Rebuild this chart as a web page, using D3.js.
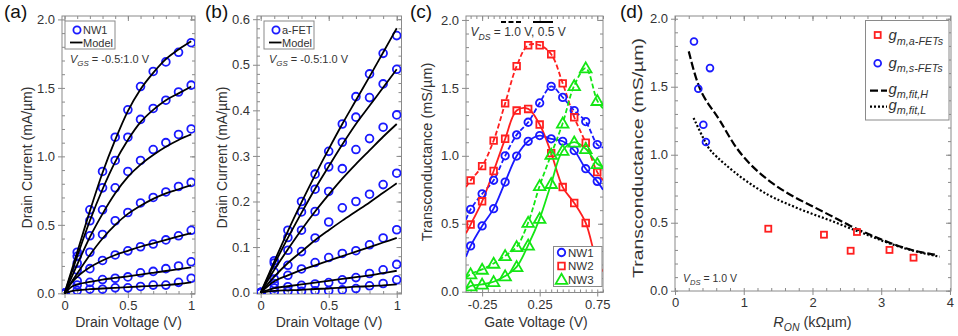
<!DOCTYPE html>
<html><head><meta charset="utf-8">
<script src="https://cdn.jsdelivr.net/npm/d3@7"></script>
<style>body{margin:0;background:#fff}svg{display:block}</style>
</head><body>
<script>
// ---------------- data ----------------
// (a) NW1 output characteristics, VGS = -0.5 : 1.0 V (top curve first)
const aVd = [0, 0.1, 0.2, 0.3, 0.4, 0.5, 0.6, 0.7, 0.8, 0.9, 1.0];
const aId = [
  [0, 0.30, 0.61, 0.89, 1.14, 1.34, 1.51, 1.62, 1.69, 1.76, 1.83],
  [0, 0.27, 0.53, 0.77, 0.97, 1.14, 1.27, 1.35, 1.41, 1.47, 1.52],
  [0, 0.22, 0.42, 0.61, 0.77, 0.89, 0.97, 1.05, 1.10, 1.16, 1.20],
  [0, 0.17, 0.30, 0.43, 0.53, 0.59, 0.66, 0.70, 0.74, 0.78, 0.81],
  [0, 0.09, 0.18, 0.24, 0.28, 0.31, 0.34, 0.36, 0.39, 0.42, 0.46],
  [0, 0.06, 0.08, 0.10, 0.11, 0.12, 0.15, 0.16, 0.18, 0.20, 0.23],
  [0, 0.02, 0.03, 0.03, 0.04, 0.04, 0.05, 0.06, 0.06, 0.08, 0.11]
];
const aModelVd = [0, 0.05, 0.1, 0.2, 0.3, 0.4, 0.5, 0.6, 0.7, 0.8, 0.9, 1.0];
const aModel = [
  [0, 0.15, 0.30, 0.60, 0.88, 1.12, 1.33, 1.49, 1.61, 1.71, 1.78, 1.84],
  [0, 0.135, 0.27, 0.53, 0.76, 0.96, 1.12, 1.25, 1.34, 1.41, 1.46, 1.51],
  [0, 0.105, 0.21, 0.41, 0.58, 0.73, 0.85, 0.94, 1.01, 1.07, 1.12, 1.16],
  [0, 0.075, 0.145, 0.28, 0.40, 0.50, 0.58, 0.64, 0.69, 0.73, 0.76, 0.79],
  [0, 0.07, 0.12, 0.19, 0.24, 0.28, 0.31, 0.34, 0.365, 0.39, 0.415, 0.44],
  [0, 0.045, 0.065, 0.083, 0.10, 0.112, 0.124, 0.137, 0.15, 0.163, 0.177, 0.19],
  [0, 0.015, 0.022, 0.03, 0.035, 0.04, 0.045, 0.05, 0.055, 0.06, 0.068, 0.08]
];
// (b) a-FET output characteristics
const bVd = [0, 0.1, 0.2, 0.3, 0.4, 0.5, 0.6, 0.7, 0.8, 0.9, 1.0];
const bId = [
  [0, 0.070, 0.137, 0.200, 0.260, 0.310, 0.370, 0.430, 0.480, 0.525, 0.564],
  [0, 0.065, 0.121, 0.177, 0.227, 0.276, 0.330, 0.385, 0.428, 0.458, 0.490],
  [0, 0.045, 0.093, 0.137, 0.178, 0.222, 0.272, 0.314, 0.338, 0.363, 0.390],
  [0, 0.030, 0.060, 0.090, 0.120, 0.155, 0.186, 0.200, 0.216, 0.237, 0.262],
  [0, 0.020, 0.038, 0.052, 0.066, 0.077, 0.086, 0.092, 0.105, 0.120, 0.138],
  [0, 0.010, 0.013, 0.016, 0.019, 0.022, 0.028, 0.033, 0.042, 0.050, 0.062],
  [0, 0.002, 0.003, 0.003, 0.004, 0.004, 0.006, 0.009, 0.015, 0.020, 0.028]
];
const bModelVd = [0, 0.1, 0.2, 0.3, 0.4, 0.5, 0.6, 0.7, 0.8, 0.9, 1.0];
const bModel = [
  [0, 0.068, 0.135, 0.198, 0.258, 0.315, 0.37, 0.422, 0.474, 0.527, 0.58],
  [0, 0.062, 0.12, 0.175, 0.228, 0.277, 0.325, 0.37, 0.41, 0.45, 0.49],
  [0, 0.05, 0.095, 0.138, 0.178, 0.215, 0.25, 0.282, 0.312, 0.342, 0.37],
  [0, 0.035, 0.065, 0.09, 0.115, 0.137, 0.158, 0.178, 0.198, 0.219, 0.24],
  [0, 0.025, 0.038, 0.05, 0.06, 0.07, 0.08, 0.09, 0.10, 0.11, 0.12],
  [0, 0.01, 0.014, 0.018, 0.022, 0.026, 0.03, 0.034, 0.038, 0.043, 0.048],
  [0, 0.004, 0.005, 0.006, 0.008, 0.009, 0.011, 0.013, 0.014, 0.016, 0.018]
];
// (c) transconductance vs gate voltage; order: NW1 1.0V, NW1 0.5V, NW2 1.0V, NW2 0.5V, NW3 1.0V, NW3 0.5V
const cVg = [-0.35, -0.25, -0.15, -0.05, 0.05, 0.15, 0.25, 0.35, 0.45, 0.55, 0.65, 0.75];
const cNW1_10 = [0.606, 0.72, 0.82, 1.00, 1.154, 1.247, 1.389, 1.511, 1.43, 1.333, 1.252, 1.083];
const cNW1_05 = [0.337, 0.484, 0.611, 0.807, 0.998, 1.107, 1.149, 1.125, 1.107, 1.039, 0.905, 0.812];
const cNW2_10 = [0.819, 0.924, 1.112, 1.386, 1.66, 1.814, 1.814, 1.748, 1.533, 1.284, 1.096, 0.88];
const cNW2_05 = [0.494, 0.665, 0.888, 1.125, 1.333, 1.345, 1.23, 1.02, 0.77, 0.653, 0.506, 0.215];
const cNW3_10 = [0.13, 0.164, 0.208, 0.264, 0.33, 0.509, 0.78, 1.01, 1.24, 1.516, 1.646, 1.406];
const cNW3_05 = [0.042, 0.054, 0.073, 0.115, 0.183, 0.342, 0.538, 0.795, 1.039, 1.10, 1.052, 0.942];
const cEdgeLeft = [0.53, 0.257, 0.77, 0.43, 0.103, 0.018];
const cEdgeRight = [1.06, 0.75, 0.82, 0.15, 1.35, 0.92];
const cLegend = ["NW1", "NW2", "NW3"];
// (d) transconductance vs RON
const dRonA = [1.357, 2.167, 2.555, 2.647, 3.12, 3.47];
const dGmA = [0.456, 0.412, 0.294, 0.432, 0.30, 0.243];
const dRonS = [0.276, 0.509, 0.339, 0.412, 0.45];
const dGmS = [1.833, 1.637, 1.485, 1.22, 1.094];
const dFitHR = [0.20, 0.34, 0.5, 0.655, 0.85, 1.09, 1.38, 1.67, 1.96, 2.25, 2.545, 2.84, 3.08, 3.47, 3.78];
const dFitHG = [1.76, 1.485, 1.36, 1.257, 1.072, 0.925, 0.80, 0.704, 0.631, 0.557, 0.476, 0.41, 0.36, 0.29, 0.265];
const dFitLR = [0.27, 0.45, 0.51, 0.70, 1.0, 1.38, 1.67, 1.96, 2.25, 2.545, 2.84, 3.08, 3.47, 3.85];
const dFitLG = [1.27, 1.08, 1.03, 0.94, 0.815, 0.692, 0.631, 0.57, 0.52, 0.459, 0.403, 0.353, 0.29, 0.25];

// ---------------- drawing ----------------
const FONT = "'Liberation Sans', Arial, Helvetica, sans-serif";
const TXT = "#333", FRAME = "#8a8a8a";
const BLUE = "#1a1aff", RED = "#ff1f1f", GREEN = "#14e614";
const svg = d3.select("body").append("svg").attr("width", 958).attr("height", 336)
  .attr("font-family", FONT);

function rng(a, b, s) { const n = Math.round((b - a) / s); return d3.range(n + 1).map(i => +(a + i * s).toFixed(6)); }

function makePanel(p, id) {
  const x = d3.scaleLinear().domain(p.xd).range([p.l, p.r]);
  const y = d3.scaleLinear().domain(p.yd).range([p.b, p.t]);
  const g = svg.append("g");
  const clean = sel => {
    sel.select(".domain").remove();
    sel.attr("font-family", FONT).attr("font-size", 13);
    sel.selectAll("line").attr("stroke", FRAME);
    sel.selectAll("text").attr("fill", TXT);
  };
  const ax = (fn, tr, vals, size) => g.append("g").attr("transform", tr)
    .call(fn.tickValues(vals).tickSize(size).tickFormat("")).call(clean);
  ax(d3.axisRight(y), `translate(${p.l},0)`, p.yMinor, 3);
  ax(d3.axisLeft(y), `translate(${p.r},0)`, p.yMinor, 3);
  ax(d3.axisBottom(x), `translate(0,${p.t})`, p.xMinor, 3);
  ax(d3.axisTop(x), `translate(0,${p.b})`, p.xMinor, 3);
  ax(d3.axisLeft(y), `translate(${p.r},0)`, p.yMajor, 5);
  ax(d3.axisBottom(x), `translate(0,${p.t})`, p.xMajor, 5);
  g.append("g").attr("transform", `translate(${p.l},0)`)
    .call(d3.axisLeft(y).tickValues(p.yMajor).tickSize(4).tickPadding(3).tickFormat(p.yFmt)).call(clean);
  g.append("g").attr("transform", `translate(0,${p.b})`)
    .call(d3.axisBottom(x).tickValues(p.xMajor).tickSize(4).tickPadding(3).tickFormat(p.xFmt)).call(clean);
  g.append("rect").attr("x", p.l).attr("y", p.t).attr("width", p.r - p.l).attr("height", p.b - p.t)
    .attr("fill", "none").attr("stroke", FRAME).attr("stroke-width", 1);
  svg.append("clipPath").attr("id", "clip" + id).append("rect")
    .attr("x", p.l).attr("y", p.t).attr("width", p.r - p.l).attr("height", p.b - p.t);
  const plot = svg.append("g").attr("clip-path", `url(#clip${id})`);
  return { x, y, g, plot };
}

function rich(parent, x, y, parts, size, anchor) {
  const t = parent.append("text").attr("x", x).attr("y", y).attr("font-size", size)
    .attr("text-anchor", anchor || "start").attr("fill", TXT);
  let shift = 0;
  parts.forEach(p => {
    const ts = t.append("tspan").text(p.t);
    if (p.i) ts.attr("font-style", "italic");
    const target = p.sub ? size * 0.3 : 0;
    if (target !== shift) { ts.attr("dy", target - shift); shift = target; }
    if (p.sub) ts.attr("font-size", size * 0.72);
  });
  return t;
}

const f1 = d3.format(".1f");
const fA = d => d === 0.5 ? "0.5" : String(d);

// ---- panel (a) ----
const PA = makePanel({ l: 62, r: 195, t: 16, b: 294, xd: [-0.02, 1.03], yd: [-0.005, 2.025],
  xMajor: [0, 0.5, 1], xMinor: rng(0, 1, 0.1), yMajor: rng(0, 2, 0.5), yMinor: rng(0, 2, 0.1),
  xFmt: fA, yFmt: f1 }, "a");
PA.plot.selectAll("circle.m").data(aId.flatMap(s => s.map((v, i) => [aVd[i], v]))).join("circle")
  .attr("cx", d => PA.x(d[0])).attr("cy", d => PA.y(d[1])).attr("r", 3.9)
  .attr("fill", "none").attr("stroke", BLUE).attr("stroke-width", 1.8);
const lineA = d3.line().x((d, i) => PA.x(aModelVd[i])).y(d => PA.y(d)).curve(d3.curveMonotoneX);
PA.plot.selectAll("path.model").data(aModel).join("path").attr("d", lineA)
  .attr("fill", "none").attr("stroke", "#000").attr("stroke-width", 1.8);

// ---- panel (b) ----
const PB = makePanel({ l: 257, r: 401.5, t: 16, b: 294, xd: [-0.027, 1.035], yd: [-0.003, 0.607],
  xMajor: [0, 0.5, 1], xMinor: rng(0, 1, 0.1), yMajor: rng(0, 0.6, 0.1), yMinor: rng(0, 0.6, 0.02),
  xFmt: fA, yFmt: f1 }, "b");
PB.plot.selectAll("circle.m").data(bId.flatMap(s => s.map((v, i) => [bVd[i], v]))).join("circle")
  .attr("cx", d => PB.x(d[0])).attr("cy", d => PB.y(d[1])).attr("r", 3.9)
  .attr("fill", "none").attr("stroke", BLUE).attr("stroke-width", 1.8);
const lineB = d3.line().x((d, i) => PB.x(bModelVd[i])).y(d => PB.y(d)).curve(d3.curveMonotoneX);
PB.plot.selectAll("path.model").data(bModel).join("path").attr("d", lineB)
  .attr("fill", "none").attr("stroke", "#000").attr("stroke-width", 1.8);

// ---- panel (c) ----
const PC = makePanel({ l: 466, r: 603, t: 16, b: 292.5, xd: [-0.39, 0.80], yd: [-0.006, 2.029],
  xMajor: [-0.25, 0.25, 0.75], xMinor: rng(-0.35, 0.8, 0.05), yMajor: rng(0, 2, 0.5), yMinor: rng(0, 2, 0.1),
  xFmt: d => d.toFixed(2), yFmt: f1 }, "c");
const cSeries = [cNW1_10, cNW1_05, cNW2_10, cNW2_05, cNW3_10, cNW3_05];
const cColors = [BLUE, BLUE, RED, RED, GREEN, GREEN];
const cSym = [d3.symbolCircle, d3.symbolCircle, d3.symbolSquare, d3.symbolSquare, d3.symbolTriangle, d3.symbolTriangle];
const cSymSize = [44, 44, 44, 44, 58, 58];
const lineC = d3.line().x(d => PC.x(d[0])).y(d => PC.y(d[1])).curve(d3.curveCatmullRom);
cSeries.forEach((s, k) => {
  const pts = [[PC.x.domain()[0], cEdgeLeft[k]], ...s.map((v, i) => [cVg[i], v]), [PC.x.domain()[1], cEdgeRight[k]]];
  PC.plot.append("path").attr("d", lineC(pts)).attr("fill", "none").attr("stroke", cColors[k])
    .attr("stroke-width", 1.8).attr("stroke-dasharray", k % 2 === 0 ? "5,2.5" : null);
});
cSeries.forEach((s, k) => {
  PC.plot.selectAll(null).data(s.map((v, i) => [cVg[i], v])).join("path")
    .attr("transform", d => `translate(${PC.x(d[0])},${PC.y(d[1]) + (k >= 4 ? 1 : 0)})`)
    .attr("d", d3.symbol(cSym[k], cSymSize[k]))
    .attr("fill", "none").attr("stroke", cColors[k]).attr("stroke-width", 1.8);
});

// ---- panel (d) ----
const PD = makePanel({ l: 675, r: 951, t: 16, b: 291, xd: [0, 4.015], yd: [-0.002, 2.02],
  xMajor: rng(0, 4, 1), xMinor: rng(0, 4, 0.2), yMajor: rng(0, 2, 0.5), yMinor: rng(0, 2, 0.1),
  xFmt: d3.format("d"), yFmt: f1 }, "d");
const lineD = d3.line().curve(d3.curveBasis);
PD.plot.append("path").attr("d", lineD(dFitHR.map((r, i) => [PD.x(r), PD.y(dFitHG[i])])))
  .attr("fill", "none").attr("stroke", "#000").attr("stroke-width", 2.2).attr("stroke-dasharray", "8,3");
PD.plot.append("path").attr("d", lineD(dFitLR.map((r, i) => [PD.x(r), PD.y(dFitLG[i])])))
  .attr("fill", "none").attr("stroke", "#000").attr("stroke-width", 2.2).attr("stroke-dasharray", "2,2");
PD.plot.selectAll("rect.a").data(dRonA.map((r, i) => [r, dGmA[i]])).join("rect")
  .attr("x", d => PD.x(d[0]) - 3).attr("y", d => PD.y(d[1]) - 3).attr("width", 6).attr("height", 6)
  .attr("fill", "none").attr("stroke", RED).attr("stroke-width", 1.8);
PD.plot.selectAll("circle.s").data(dRonS.map((r, i) => [r, dGmS[i]])).join("circle")
  .attr("cx", d => PD.x(d[0])).attr("cy", d => PD.y(d[1])).attr("r", 3.4)
  .attr("fill", "none").attr("stroke", BLUE).attr("stroke-width", 1.8);

// ---------------- overlay: legends & annotations (on top of data) ----------------
const overlay = svg.append("g");
// VDS annotation (c)
overlay.append("line").attr("x1", 501).attr("x2", 521).attr("y1", 22).attr("y2", 22)
  .attr("stroke", "#000").attr("stroke-width", 2).attr("stroke-dasharray", "5,2.5");
overlay.append("line").attr("x1", 533).attr("x2", 553).attr("y1", 22).attr("y2", 22)
  .attr("stroke", "#000").attr("stroke-width", 2);
rich(overlay, 470.5, 36, [{ t: "V", i: true }, { t: "DS", i: true, sub: true }, { t: " = 1.0 V, 0.5 V" }], 12);
// legend (c)
overlay.append("rect").attr("x", 553.5).attr("y", 246.5).attr("width", 48.5).attr("height", 40)
  .attr("fill", "#fff").attr("stroke", FRAME);
cLegend.forEach((name, j) => {
  const yy = 252.5 + j * 13.5;
  overlay.append("path").attr("transform", `translate(561.5,${yy + (j === 2 ? 1 : 0)})`)
    .attr("d", d3.symbol(cSym[j * 2], cSymSize[j * 2]))
    .attr("fill", "none").attr("stroke", cColors[j * 2]).attr("stroke-width", 1.8);
  overlay.append("text").attr("x", 568).attr("y", yy + 4.3).attr("font-size", 11.5).attr("fill", TXT).text(name);
});
// legend (d)
overlay.append("rect").attr("x", 865.5).attr("y", 20.5).attr("width", 83.5).attr("height", 99.5)
  .attr("fill", "#fff").attr("stroke", FRAME);
overlay.append("rect").attr("x", 874.7).attr("y", 32).attr("width", 6).attr("height", 6)
  .attr("fill", "none").attr("stroke", RED).attr("stroke-width", 1.8);
overlay.append("circle").attr("cx", 877.7).attr("cy", 63.3).attr("r", 3.4)
  .attr("fill", "none").attr("stroke", BLUE).attr("stroke-width", 1.8);
overlay.append("line").attr("x1", 870).attr("x2", 887).attr("y1", 90.7).attr("y2", 90.7)
  .attr("stroke", "#000").attr("stroke-width", 2.2).attr("stroke-dasharray", "8,3");
overlay.append("line").attr("x1", 870).attr("x2", 887).attr("y1", 106.7).attr("y2", 106.7)
  .attr("stroke", "#000").attr("stroke-width", 2.2).attr("stroke-dasharray", "2,2");
[["m,a-FETs", 40], ["m,s-FETs", 67.5], ["m,fit,H", 93.5], ["m,fit,L", 109.5]].forEach(([sub, yy]) => {
  rich(overlay, 888.5, yy, [{ t: "g", i: true }, { t: sub, i: true, sub: true }], 15);
});
rich(overlay, 683, 282, [{ t: "V", i: true }, { t: "DS", i: true, sub: true }, { t: " = 1.0 V" }], 10.5);

// legends (a), (b)
function ivLegend(bx, name) {
  overlay.append("rect").attr("x", bx).attr("y", 21).attr("width", 50).attr("height", 28)
    .attr("fill", "#fff").attr("stroke", FRAME);
  overlay.append("circle").attr("cx", bx + 12).attr("cy", 30).attr("r", 3.6)
    .attr("fill", "none").attr("stroke", BLUE).attr("stroke-width", 1.8);
  overlay.append("text").attr("x", bx + 18).attr("y", 34).attr("font-size", 11).attr("fill", TXT).text(name);
  overlay.append("line").attr("x1", bx + 5).attr("x2", bx + 17.5).attr("y1", 42.5).attr("y2", 42.5)
    .attr("stroke", "#000").attr("stroke-width", 1.8);
  overlay.append("text").attr("x", bx + 18).attr("y", 46.5).attr("font-size", 11).attr("fill", TXT).text("Model");
  rich(overlay, bx + 5, 63, [{ t: "V", i: true }, { t: "GS", i: true, sub: true }, { t: " = -0.5:1.0 V" }], 11);
}
ivLegend(65, "NW1");
ivLegend(264, "a-FET");

// ---- axis titles ----
function ytitle(x, y, text, size, len) {
  const t = svg.append("text").attr("transform", `translate(${x},${y}) rotate(-90)`)
    .attr("text-anchor", "middle").attr("font-size", size).attr("fill", TXT).text(text);
  if (len) t.attr("textLength", len).attr("lengthAdjust", "spacingAndGlyphs");
}
ytitle(32, 157.5, "Drain Current (mA/\u00b5m)", 14);
ytitle(227, 157.5, "Drain Current (mA/\u00b5m)", 14);
ytitle(432, 152, "Transconductance (mS/\u00b5m)", 14.5);
ytitle(643, 158, "Transconductance (mS/\u00b5m)", 15, 240);
const xt = (x, txt) => svg.append("text").attr("x", x).attr("y", 327).attr("text-anchor", "middle")
  .attr("font-size", 14).attr("fill", TXT).text(txt);
xt(128.5, "Drain Voltage (V)");
xt(329, "Drain Voltage (V)");
xt(536, "Gate Voltage (V)");
rich(svg, 812.5, 327, [{ t: "R", i: true }, { t: "ON", i: true, sub: true }, { t: " (k\u03a9\u00b5m)" }], 14.5, "middle");

// ---- panel letters ----
[["(a)", 4], ["(b)", 205], ["(c)", 410], ["(d)", 620]].forEach(([t, x]) =>
  svg.append("text").attr("x", x).attr("y", 17.5).attr("font-size", 19).attr("fill", "#111").text(t));
</script>
</body></html>
